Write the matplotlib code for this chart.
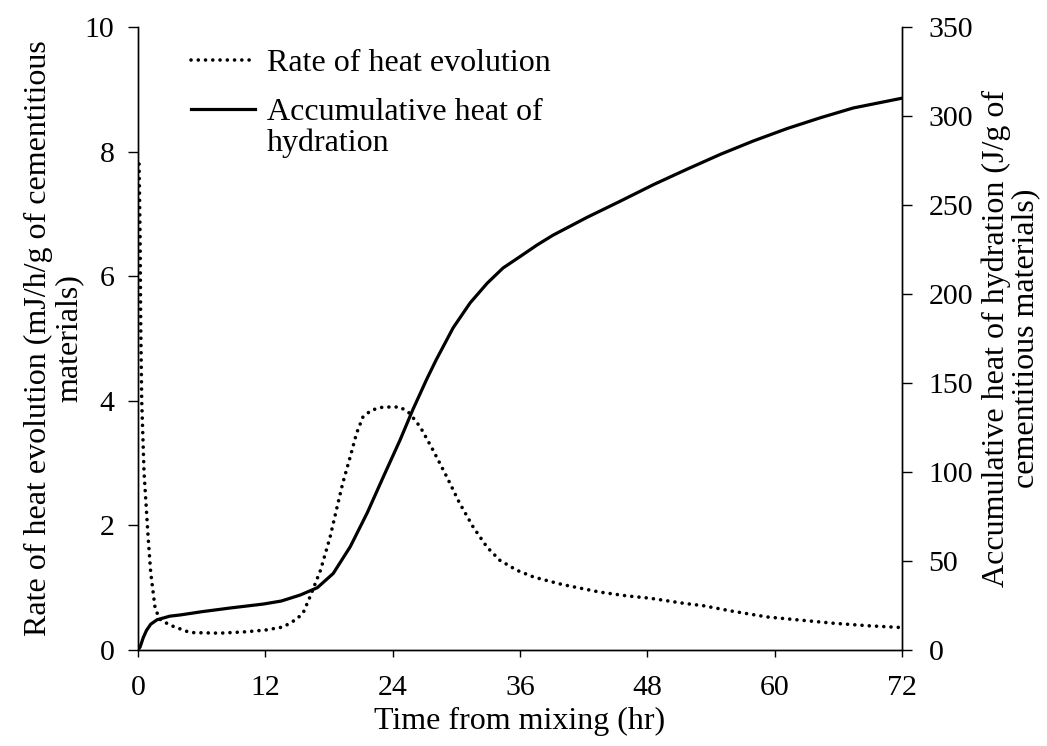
import numpy as np
import matplotlib
matplotlib.use("Agg")
import matplotlib.pyplot as plt

# rate of heat evolution (mJ/h/g)
t_rate = [0.1, 0.2, 0.25, 0.35, 0.57, 0.97, 1.2, 1.6, 2.0, 3.0,
          4.9, 7.7, 10, 12, 13.7, 15.0, 15.6, 16.2, 17.2, 18.1,
          18.7, 19.3, 20, 20.6, 21.2, 22, 23.1, 24.7, 25.6, 26.6,
          27.8, 29.1, 30.3, 31.6, 32.9, 34.1, 35.7, 37.3, 40, 43.5,
          46, 48.3, 51.4, 53.3, 56.1, 59.3, 62.4, 65.5, 68.7, 72]
rate = [7.8, 6.6, 5.3, 4.0, 2.85, 1.77, 1.24, 0.69, 0.5, 0.4,
        0.28, 0.27, 0.29, 0.32, 0.37, 0.5, 0.61, 0.85, 1.28, 1.81,
        2.25, 2.68, 3.1, 3.48, 3.74, 3.85, 3.9, 3.9, 3.8, 3.58,
        3.21, 2.78, 2.36, 1.97, 1.65, 1.44, 1.28, 1.17, 1.05, 0.93,
        0.87, 0.83, 0.75, 0.71, 0.62, 0.53, 0.48, 0.43, 0.39, 0.36]

# accumulative heat of hydration (J/g), solid curve
t_heat = [0, 0.2, 0.5, 0.8, 1.2, 1.8, 3, 4, 6, 8.7,
          11.8, 13.5, 15.3, 16.9, 18.4, 20, 21.6, 23.1, 24.7, 25.9,
          27.2, 28.1, 29.7, 31.3, 32.9, 34.4, 36, 37.6, 39.1, 42.3,
          45.4, 48.6, 51.7, 54.9, 58, 61.2, 64.3, 67.4, 72]
heat = [0, 1.7, 7, 11, 14.5, 17, 19, 19.7, 21.5, 23.6,
        25.8, 27.5, 30.9, 35, 43, 58, 77, 97, 118, 135,
        152, 163, 181, 195, 206, 214.6, 221, 227.5, 233, 243,
        252, 261.5, 270, 278.5, 286, 293, 299, 304.5, 310]

x_ticks = [0, 12, 24, 36, 48, 60, 72]
left_ticks = [0, 2, 4, 6, 8, 10]
right_ticks = [0, 50, 100, 150, 200, 250, 300, 350]

plt.rcParams['font.family'] = ['Liberation Serif', 'DejaVu Serif']
tick_fs = 21.5
lab_fs = 23

fig = plt.figure(figsize=(10.47, 7.46), dpi=100)
ax = fig.add_axes([0.1318, 0.1287, 0.7297, 0.8351])
ax2 = ax.twinx()

# round dots, spaced ~7 px like the original
l1, = ax.plot(t_rate, rate, color='black', lw=2.6, ls=(0, (0.01, 2.0)),
              dash_capstyle='round', label='Rate of heat evolution')
l2, = ax2.plot(t_heat, heat, color='black', lw=2.3,
               label='Accumulative heat of\nhydration')

ax.set_xlim(0, 72)
ax.set_ylim(0, 10)
ax2.set_ylim(0, 350)
ax.set_xticks(x_ticks)
ax.set_yticks(left_ticks)
ax2.set_yticks(right_ticks)

for a in (ax, ax2):
    a.spines['top'].set_visible(False)
    for s in a.spines.values():
        s.set_linewidth(1.0)
ax.tick_params(axis='x', direction='out', length=5, width=1, pad=13, labelsize=tick_fs)
ax.tick_params(axis='y', direction='out', length=7, width=1, pad=10, labelsize=tick_fs)
ax2.tick_params(axis='y', direction='out', length=7, width=1, pad=12, labelsize=tick_fs)

ax.set_xlabel('Time from mixing (hr)', fontsize=lab_fs, labelpad=4)
ax.set_ylabel('Rate of heat evolution (mJ/h/g of cementitious\nmaterials)',
              fontsize=lab_fs, linespacing=1.05, labelpad=1)
ax2.set_ylabel('Accumulative heat of hydration (J/g of\ncementitious materials)',
               fontsize=lab_fs, linespacing=1.0, labelpad=6)

leg = ax2.legend(handles=[l1, l2], loc='upper left', bbox_to_anchor=(0.07, 0.965),
                 frameon=False, fontsize=lab_fs, handlelength=2.0,
                 handletextpad=0.35, labelspacing=0.62, borderpad=0,
                 borderaxespad=0)
for t in leg.get_texts():
    t.set_linespacing(1.08)
# keep the solid handle level with the first line of its label
for col in leg._legend_handle_box.get_children():
    for row in col.get_children():
        row.align = 'top'

fig.savefig('out.png', dpi=100)
